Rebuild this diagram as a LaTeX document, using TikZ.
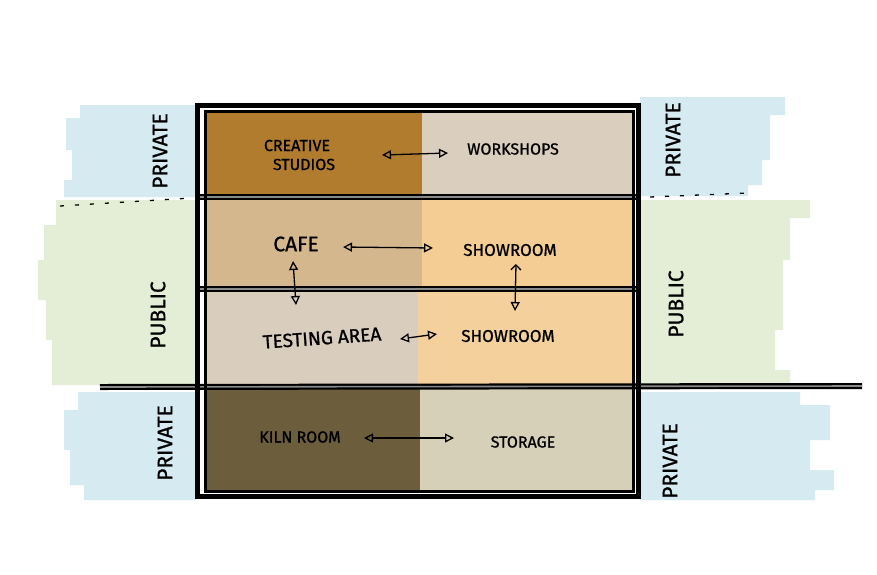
\documentclass[tikz,border=0pt]{standalone}
\usepackage{fontspec}
\setmainfont{Fira Sans}[FakeBold=1]
\usetikzlibrary{arrows.meta}
\definecolor{ochre}{HTML}{B27C2E}
\definecolor{workshop}{HTML}{DACEBF}
\definecolor{cafe}{HTML}{D5B78D}
\definecolor{showroomA}{HTML}{F3CD94}
\definecolor{testing}{HTML}{D9CDBE}
\definecolor{showroomB}{HTML}{F4D09C}
\definecolor{kiln}{HTML}{6C5E3D}
\definecolor{storage}{HTML}{D7D0B9}
\definecolor{privblue}{HTML}{D6EAF1}
\definecolor{pubgreen}{HTML}{E4EED6}
\definecolor{divgrey}{HTML}{8A8A8A}
\tikzset{
  roomlabel/.style={font=\fontsize{16}{18}\selectfont, text=black, inner sep=1pt, align=center},
  zonelabel/.style={font=\fontsize{21}{23}\selectfont, text=black, rotate=90, inner sep=1pt},
  linkarrow/.style={line width=1.3pt, {Triangle[open,length=9pt,width=9pt]}-{Triangle[open,length=9pt,width=9pt]}},
  divider/.style={line width=2.2pt, double=divgrey, double distance=1.6pt, black},
  zoneline/.style={line width=1.3pt, black, dash pattern=on 4pt off 11pt},
}
\begin{document}
\begin{tikzpicture}[x=1pt,y=-1pt]
\useasboundingbox (0,0) rectangle (877,574);
\fill[white] (0,0) rectangle (877,574);
% zone bands left
\fill[privblue] (196,105) -- (80,105) -- (80,118) -- (66,118) -- (66,150) -- (72,150) -- (72,180) -- (64,180) -- (64,197) -- (196,197) -- cycle;
\fill[pubgreen] (196,200) -- (56,200) -- (56,225) -- (44,225) -- (44,260) -- (38,260) -- (38,300) -- (46,300) -- (46,340) -- (52,340) -- (52,385) -- (196,385) -- cycle;
\fill[privblue] (196,392) -- (78,392) -- (78,410) -- (64,410) -- (64,450) -- (70,450) -- (70,485) -- (84,485) -- (84,500) -- (196,500) -- cycle;
% zone bands right
\fill[privblue] (640,97) -- (785,97) -- (785,115) -- (770,115) -- (770,160) -- (762,160) -- (762,185) -- (748,185) -- (748,196) -- (640,196) -- cycle;
\fill[pubgreen] (640,200) -- (810,200) -- (810,218) -- (790,218) -- (790,260) -- (783,260) -- (783,330) -- (775,330) -- (775,370) -- (790,370) -- (790,385) -- (640,385) -- cycle;
\fill[privblue] (640,392) -- (800,392) -- (800,405) -- (830,405) -- (830,440) -- (810,440) -- (810,470) -- (834,470) -- (834,490) -- (815,490) -- (815,500) -- (640,500) -- cycle;
% rooms
\fill[ochre] (205,111) rectangle (422,197);
\fill[workshop] (422,111) rectangle (633,197);
\fill[cafe] (205,197) rectangle (422,289);
\fill[showroomA] (422,197) rectangle (633,289);
\fill[testing] (205,289) rectangle (418,388);
\fill[showroomB] (418,289) rectangle (633,388);
\fill[kiln] (205,388) rectangle (420,491);
\fill[storage] (420,388) rectangle (633,491);
% zone divider lines
\coordinate (dl1) at (60,206);
\coordinate (dl2) at (192,198);
\coordinate (dr1) at (650,197);
\coordinate (dr2) at (748,193);
\draw[zoneline] (dl1) -- (dl2);
\draw[zoneline] (dr1) -- (dr2);
\coordinate (hl1) at (100,387);
\coordinate (hl2) at (862,386);
\draw[divider] (hl1) -- (hl2);
% floor dividers
\draw[divider] (196,197) -- (640,197);
\draw[divider] (196,289) -- (640,289);
% building outline
\draw[line width=5pt, black] (197.5,105.5) rectangle (638.5,496.5);
\draw[line width=3pt, black] (205,111) rectangle (633,491);
% labels
\node[roomlabel] (cs) at (297,155) {CREATIVE\\[1pt]\hspace*{14pt}STUDIOS};
\node[roomlabel] (ws) at (513,149) {WORKSHOPS};
\node[roomlabel, font=\fontsize{21}{23}\selectfont] (cafe) at (296,244) {CAFE};
\node[roomlabel, font=\fontsize{17}{19}\selectfont] (sr1) at (510,250) {SHOWROOM};
\node[roomlabel, font=\fontsize{19}{21}\selectfont, rotate=4] (ta) at (322,338) {TESTING AREA};
\node[roomlabel, font=\fontsize{17}{19}\selectfont] (sr2) at (508,336) {SHOWROOM};
\node[roomlabel] (kr) at (300,437) {KILN ROOM};
\node[roomlabel] (st) at (523,442) {STORAGE};
\node[zonelabel] (lp1) at (160,151) {PRIVATE};
\node[zonelabel] (lpub) at (158,315) {PUBLIC};
\node[zonelabel] (lp2) at (165,443) {PRIVATE};
\node[zonelabel] (rp1) at (673,140) {PRIVATE};
\node[zonelabel] (rpub) at (676,304) {PUBLIC};
\node[zonelabel] (rp2) at (670,461) {PRIVATE};
% arrows
\coordinate (a1) at (382,155); \coordinate (a2) at (448,153);
\coordinate (b1) at (343,247); \coordinate (b2) at (433,248);
\coordinate (c1) at (293,261); \coordinate (c2) at (296,305);
\coordinate (d1) at (516,264); \coordinate (d2) at (515,311);
\coordinate (e1) at (400,339); \coordinate (e2) at (437,334);
\coordinate (f1) at (364,438); \coordinate (f2) at (454,438);
\draw[linkarrow] (a1) -- (a2);
\draw[linkarrow] (b1) -- (b2);
\draw[linkarrow] (c1) -- (c2);
\draw[line width=1.3pt, {Straight Barb[length=5pt,width=10pt]}-{Triangle[open,length=9pt,width=9pt]}] (d1) -- (d2);
\draw[linkarrow] (e1) -- (e2);
\draw[linkarrow] (f1) -- (f2);
\end{tikzpicture}
\end{document}
